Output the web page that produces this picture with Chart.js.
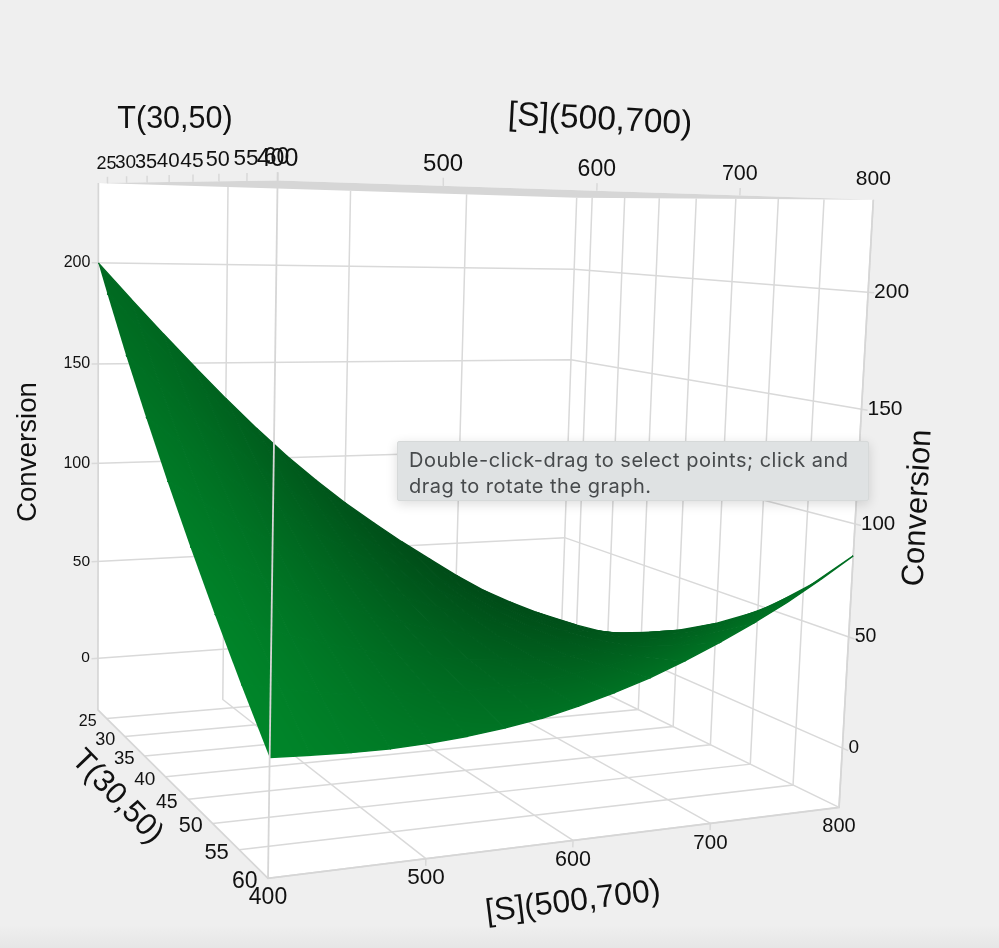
<!DOCTYPE html>
<html>
<head>
<meta charset="utf-8">
<title>Conversion surface</title>
<script src="https://cdn.jsdelivr.net/npm/chart.js@4"></script>
<style>
  html, body { margin: 0; height: 100%; overflow: hidden; }
  body { background: linear-gradient(#efefef 0, #efefef 925px, #e6e6e6 948px); position: relative; }
  canvas { display: block; position: absolute; left: 0; top: 0; }
  #hint {
    position: absolute; left: 397px; top: 441px; width: 472px; height: 60px; box-sizing: border-box;
    padding: 5px 11px; background: #dfe2e3; border: 1px solid #d6d9d9; border-radius: 2px;
    box-shadow: 0 3px 12px rgba(0,0,0,.14); color: #474a4c;
    font: 20px/26px Inter, sans-serif; letter-spacing: .5px;
  }
</style>
</head>
<body>
<canvas id="chart" width="999" height="948"></canvas>
<div id="hint">Double-click-drag to select points; click and drag to rotate the graph.</div>
<script>
// axis ranges of the 3d box
const sRange = [400, 800];
const tRange = [22.5, 60];
const zRange = [-27, 239];

// tick labels
const sTicks = [400, 500, 600, 700, 800];
const tTicks = [25, 30, 35, 40, 45, 50, 55, 60];
const zTicks = [0, 50, 100, 150, 200];

// surface samples
const sValues = [400, 425, 450, 475, 500, 525, 550, 575, 600, 625, 650, 675, 700, 725, 750, 775, 800];
const tValues = [22.5, 25, 30, 35, 40, 45, 50, 55, 60];
const convT225 = [200, 182.2, 164.9, 148, 131.6, 116, 101.2, 87.7, 75, 63.6, 52.5, 42.2, 32.1, 22.9, 15.2, 8.3, 2.5];
const convT25 = [185.8, 169, 152.7, 137.1, 122.3, 108.2, 94.9, 82.3, 70.3, 59.2, 48.8, 39.1, 30.2, 22.1, 15, 9, 3.5];
const convT30 = [158.4, 143.6, 129.4, 115.9, 103.1, 90.9, 79.5, 68.8, 58.8, 49.5, 41, 33.2, 26.1, 19.7, 14.5, 10, 6.5];
const convT35 = [132.8, 120.1, 108, 96.6, 86, 75.9, 66.6, 58, 50.2, 43, 36.6, 30.9, 25.8, 21.6, 18.1, 15.2, 13.1];
const convT40 = [108.2, 97.6, 87.6, 78.3, 69.8, 62.1, 55, 48.6, 42.9, 37.9, 33.7, 30.1, 27.3, 25.2, 23.7, 23, 23];
const convT45 = [84.8, 76.4, 68.7, 61.6, 55.5, 49.9, 45.1, 40.9, 37.3, 34.5, 32.4, 31, 30.2, 30.1, 30.7, 31.9, 33.9];
const convT50 = [62.4, 56.4, 51, 46.2, 42.4, 39.2, 36.6, 34.7, 33.5, 32.9, 33, 33.6, 35, 37.1, 39.7, 43.1, 47.1];
const convT55 = [41.2, 37.8, 35, 32.9, 31.5, 30.7, 30.5, 31, 32.2, 33.9, 36.2, 39.4, 43, 47.3, 52.3, 57.9, 64.1];
const convT60 = [21, 20.3, 19.8, 19.8, 20.5, 21.8, 23.8, 26.3, 30, 34.3, 39.3, 45.3, 52, 59.3, 67.3, 76.3, 86];
const conversion = [convT225, convT25, convT30, convT35, convT40, convT45, convT50, convT55, convT60];

// green level seen on the surface at some page spots [x, y, g]
const shadeSpots = [
  [105, 280, 105], [120, 320, 110], [180, 480, 120], [230, 650, 132], [262, 740, 135],
  [270, 450, 90], [300, 550, 105], [290, 700, 128], [300, 745, 130],
  [350, 500, 85], [360, 600, 100], [380, 700, 115], [400, 745, 122],
  [430, 545, 72], [430, 640, 98], [450, 600, 88], [480, 680, 105], [500, 720, 112],
  [520, 600, 72], [530, 660, 98], [550, 640, 88], [580, 680, 108],
  [600, 632, 78], [630, 650, 98], [680, 625, 92], [700, 640, 105], [760, 605, 105], [830, 565, 105]
];

// camera: where the 8 box corners land on the page [s, t, z, x, y] (s,t,z are 0 or 1)
const boxCorners = [
  [0, 0, 1, 98, 183], [0, 1, 1, 278, 181], [1, 1, 1, 873, 199], [1, 0, 1, 577, 198],
  [0, 0, 0, 98, 709], [0, 1, 0, 268, 879], [1, 1, 0, 839, 807], [1, 0, 0, 560, 672]
];

function solve(a, b) {
  const n = b.length;
  for (let i = 0; i < n; i++) {
    let p = i;
    for (let r = i + 1; r < n; r++) if (Math.abs(a[r][i]) > Math.abs(a[p][i])) p = r;
    [a[i], a[p]] = [a[p], a[i]];
    [b[i], b[p]] = [b[p], b[i]];
    for (let r = i + 1; r < n; r++) {
      const f = a[r][i] / a[i][i];
      for (let c = i; c < n; c++) a[r][c] -= f * a[i][c];
      b[r] -= f * b[i];
    }
  }
  const out = new Array(n);
  for (let i = n - 1; i >= 0; i--) {
    let v = b[i];
    for (let c = i + 1; c < n; c++) v -= a[i][c] * out[c];
    out[i] = v / a[i][i];
  }
  return out;
}

// least squares, rows against right hand sides
function leastSquares(rows, rhs) {
  const n = rows[0].length, ata = [], atb = [];
  for (let i = 0; i < n; i++) {
    ata.push([]);
    atb.push(rows.reduce((sum, r, k) => sum + r[i] * rhs[k], 0));
    for (let j = 0; j < n; j++) ata[i].push(rows.reduce((sum, r) => sum + r[i] * r[j], 0));
  }
  return solve(ata, atb);
}

function fitCamera() {
  const rows = [], rhs = [];
  boxCorners.forEach(([X, Y, Z, x, y]) => {
    rows.push([X, Y, Z, 1, 0, 0, 0, 0, -x * X, -x * Y, -x * Z]); rhs.push(x);
    rows.push([0, 0, 0, 0, X, Y, Z, 1, -y * X, -y * Y, -y * Z]); rhs.push(y);
  });
  return leastSquares(rows, rhs);
}
const cam = fitCamera();

function project(s, t, z) {
  const X = (s - sRange[0]) / (sRange[1] - sRange[0]);
  const Y = (t - tRange[0]) / (tRange[1] - tRange[0]);
  const Z = (z - zRange[0]) / (zRange[1] - zRange[0]);
  const w = cam[8] * X + cam[9] * Y + cam[10] * Z + 1;
  return {
    x: (cam[0] * X + cam[1] * Y + cam[2] * Z + cam[3]) / w,
    y: (cam[4] * X + cam[5] * Y + cam[6] * Z + cam[7]) / w
  };
}

// smooth lighting: a cubic through the spots, painted once and used as the fill of every cell
function shadeTerms(x, y) {
  const a = x / 500 - 1, b = y / 300 - 2;
  return [1, a, b, a * a, a * b, b * b, a * a * a, a * a * b, a * b * b, b * b * b];
}
function makeLighting(target) {
  const coef = leastSquares(shadeSpots.map(p => shadeTerms(p[0], p[1])), shadeSpots.map(p => p[2]));
  const off = document.createElement('canvas');
  off.width = 999; off.height = 948;
  const octx = off.getContext('2d');
  const img = octx.createImageData(999, 948);
  for (let y = 0; y < 948; y++) {
    for (let x = 0; x < 999; x++) {
      const terms = shadeTerms(x, y);
      let g = 0;
      for (let k = 0; k < terms.length; k++) g += coef[k] * terms[k];
      g = Math.max(70, Math.min(138, g));
      const at = (y * 999 + x) * 4;
      img.data[at] = 0;
      img.data[at + 1] = g;
      img.data[at + 2] = g * 0.31;
      img.data[at + 3] = 255;
    }
  }
  octx.putImageData(img, 0, 0);
  return target.createPattern(off, 'no-repeat');
}

const canvas = document.getElementById('chart');
const ctx = canvas.getContext('2d');
const lighting = makeLighting(ctx);
const [sMin, sMax] = sRange, [tMin, tMax] = tRange, [zMin, zMax] = zRange;
const layers = [];   // far to near

function addLine(points, color, width) {
  layers.push({ data: points, showLine: true, pointRadius: 0, borderColor: color, borderWidth: width, fill: false, tension: 0 });
}
function addShape(points, fillStyle, edge) {
  layers.push({ data: points, showLine: true, pointRadius: 0, backgroundColor: fillStyle, borderColor: edge || fillStyle, borderWidth: edge ? 1.4 : 0, fill: 'shape', tension: 0 });
}

const gridColor = '#d9d9d9';
const edgeColor = '#d6d6d6';

// box faces
addShape([project(sMin, tMin, zMax), project(sMin, tMax, zMax), project(sMax, tMax, zMax), project(sMax, tMax, zMin), project(sMin, tMax, zMin), project(sMin, tMin, zMin)], '#ffffff');
addShape([project(sMin, tMin, zMax), project(sMin, tMax, zMax), project(sMax, tMax, zMax), project(sMax, tMin, zMax)], edgeColor);

// grid on the back wall, the side wall and the floor
zTicks.forEach(z => {
  addLine([project(sMin - 5, tMin, z), project(sMax, tMin, z), project(sMax, tMax + 0.6, z)], gridColor, 1.5);
});
sTicks.slice(1, 4).forEach(s => {
  addLine([project(s, tMin, zMax), project(s, tMin, zMin), project(s, tMax, zMin), project(s, tMax, zMin - 3)], gridColor, 1.5);
  addLine([project(s, tMax, zMax), project(s, tMax, zMax + 3)], gridColor, 1.5);
});
tTicks.forEach(t => {
  addLine([project(sMin, t, zMin), project(sMax, t, zMin), project(sMax, t, zMax)], gridColor, 1.5);
  addLine([project(sMin, t, zMax), project(sMin, t, zMax + 3)], gridColor, 1.5);
});

// box edges
addLine([project(sMin, tMin, zMax), project(sMin, tMin, zMin), project(sMin, tMax, zMin), project(sMax, tMax, zMin), project(sMax, tMax, zMax)], edgeColor, 1.7);
addLine([project(sMax, tMin, zMax), project(sMax, tMin, zMin), project(sMax, tMax, zMin)], gridColor, 1.5);

// the surface, far cells first
for (let j = 0; j < tValues.length - 1; j++) {
  for (let i = sValues.length - 2; i >= 0; i--) {
    addShape([
      project(sValues[i], tValues[j], conversion[j][i]),
      project(sValues[i + 1], tValues[j], conversion[j][i + 1]),
      project(sValues[i + 1], tValues[j + 1], conversion[j + 1][i + 1]),
      project(sValues[i], tValues[j + 1], conversion[j + 1][i])
    ], lighting, lighting);
  }
}

// near edge runs in front of the surface
addLine([project(sMin, tMax, zMin), project(sMin, tMax, zMax + 3)], edgeColor, 1.8);

// tick font sizes follow the perspective
const tTopSizes = [18, 19, 20, 20.5, 21, 21.6, 22.5, 23];
const tBottomSizes = [16, 18, 18.6, 19, 19.5, 21.6, 22, 23];
const sTopSizes = [25, 24, 23, 21.5, 21];
const sBottomSizes = [23, 22.5, 21.5, 20.5, 20];
const zLeftSizes = [15.5, 15.5, 16, 16, 16];
const zRightSizes = [19, 19.5, 20.5, 21, 21];

const labelPlugin = {
  id: 'boxLabels',
  afterDatasetsDraw(chart) {
    const c = chart.ctx, xs = chart.scales.x, ys = chart.scales.y;
    const put = (text, p, dx, dy, size, align) => {
      c.font = `${size}px "Liberation Sans", Arimo, Helvetica, sans-serif`;
      c.textAlign = align || 'center';
      c.textBaseline = 'middle';
      c.fillStyle = '#111111';
      c.fillText(text, xs.getPixelForValue(p.x) + dx, ys.getPixelForValue(p.y) + dy);
    };
    const title = (text, x, y, size, deg) => {
      c.save();
      c.translate(xs.getPixelForValue(x), ys.getPixelForValue(y));
      c.rotate(deg * Math.PI / 180);
      c.font = `${size}px "Liberation Sans", Arimo, Helvetica, sans-serif`;
      c.textAlign = 'center';
      c.textBaseline = 'middle';
      c.fillStyle = '#111111';
      c.fillText(text, 0, 0);
      c.restore();
    };
    c.save();
    tTicks.forEach((t, i) => {
      put(String(t), project(sMin, t, zMax), -1, -19 - i * 0.5, tTopSizes[i]);
      put(String(t), project(sMin, t, zMin), -19 - i * 0.6, 3, tBottomSizes[i]);
    });
    sTicks.forEach((s, i) => {
      put(String(s), project(s, tMax, zMax), 0, -21, sTopSizes[i]);
      put(String(s), project(s, tMax, zMin), 0, 19.5, sBottomSizes[i]);
    });
    zTicks.forEach((z, i) => {
      put(String(z), project(sMin, tMin, z), -8, 0, zLeftSizes[i], 'right');
      put(String(z), project(sMax, tMax, z), 6, 0, zRightSizes[i], 'left');
    });
    title('T(30,50)', 175, 120, 30.5, 0);
    title('[S](500,700)', 600, 120, 33.5, 3);
    title('Conversion', 28, 452, 27.7, -90);
    title('Conversion', 918, 508, 31, -87);
    title('T(30,50)', 117, 797, 31, 46);
    title('[S](500,700)', 573, 902, 32, -7);
    c.restore();
  }
};

new Chart(canvas, {
  type: 'scatter',
  data: { datasets: layers.slice().reverse() },   // first dataset is painted last
  options: {
    responsive: false,
    animation: false,
    events: [],
    layout: { padding: 0 },
    plugins: { legend: { display: false }, tooltip: { enabled: false } },
    scales: {
      x: { type: 'linear', min: 0, max: 999, display: false },
      y: { type: 'linear', min: 0, max: 948, reverse: true, display: false }
    }
  },
  plugins: [labelPlugin]
});
</script>
</body>
</html>
